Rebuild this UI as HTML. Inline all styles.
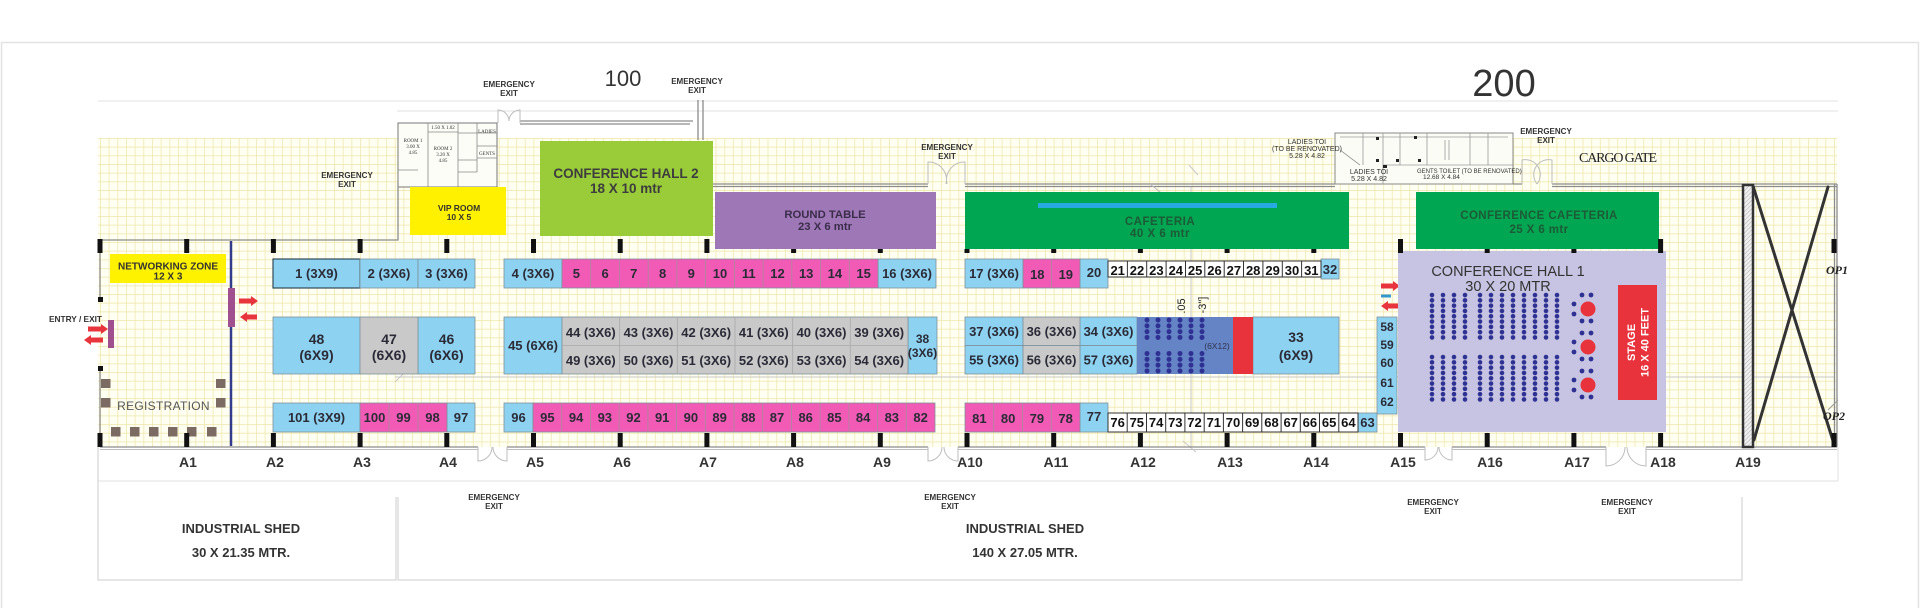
<!DOCTYPE html>
<html><head><meta charset="utf-8">
<style>
html,body{margin:0;padding:0;background:#fff;width:1920px;height:608px;overflow:hidden}
svg{display:block}
text{font-family:"Liberation Sans",Arial,sans-serif}
.bt{font-weight:bold;font-size:13px;fill:#2b2b38;text-anchor:middle}
.bt14{font-weight:bold;font-size:14px;fill:#2b2b38;text-anchor:middle}
.wt{font-weight:bold;font-size:13px;fill:#111;text-anchor:middle}
.ax{font-weight:bold;font-size:14px;fill:#333;text-anchor:middle}
.em{font-weight:bold;font-size:8px;fill:#333;text-anchor:middle}
.tiny{font-family:"Liberation Serif",serif;font-size:5px;fill:#333;text-anchor:middle}
.tl{font-size:7px;fill:#333;text-anchor:middle}
</style></head><body>
<svg width="1920" height="608" viewBox="0 0 1920 608" xmlns="http://www.w3.org/2000/svg">
<defs>
<pattern id="grid" patternUnits="userSpaceOnUse" x="100" y="138" width="8.67" height="8.67">
<rect width="8.67" height="8.67" fill="#fffff2"/>
<path d="M0 0.4H8.67M0.4 0V8.67" stroke="#efe8b2" stroke-width="0.8"/>
</pattern>
<pattern id="dots" patternUnits="userSpaceOnUse" width="11" height="5.3"><circle cx="5.5" cy="2.65" r="2.3" fill="#2e3192"/></pattern>
<pattern id="dots2" patternUnits="userSpaceOnUse" width="11" height="5.8"><circle cx="5.5" cy="2.9" r="2.5" fill="#2e3192"/></pattern>
<pattern id="hatch" patternUnits="userSpaceOnUse" width="3" height="3" patternTransform="rotate(45)"><rect width="3" height="3" fill="#f0f0f0"/><path d="M0 0V3" stroke="#999" stroke-width="0.8"/></pattern>
</defs>

<!-- outer frame -->
<path d="M1.5 608V42.5H1918.5V608" fill="none" stroke="#e3e3e3" stroke-width="1.5"/>

<!-- faint dimension lines -->
<g stroke="#e0e0e0" stroke-width="1" fill="none">
<path d="M98 101H1838"/>
<path d="M397 111H1838"/>
<path d="M98 481H1838"/>
<path d="M1838 447V481"/>
</g>
<g stroke="#d6d6d6" stroke-width="1.2" fill="none">
<path d="M98 447V580H396V497"/>
<path d="M398 497V580H1742V497"/>
</g>

<!-- grid -->
<rect x="98" y="138" width="1739" height="309" fill="url(#grid)"/>

<!-- faint internal reference lines -->
<g stroke="#c8c8c8" stroke-width="1" fill="none">
<path d="M395 377H1834"/>
<path d="M395 382L405 372"/>
<path d="M1191 186V447"/>
<path d="M1183 441L1196 452"/>
<path d="M1189 165L1198 175"/>
</g>

<!-- rooms block top-left -->
<rect x="398" y="123" width="99" height="64" fill="#fdfdf8" stroke="#777" stroke-width="1"/>
<g stroke="#888" stroke-width="0.8" fill="none">
<path d="M428 123V187M458 123V187M477 123V172M428 132H458M398 170H418M458 133H497M458 160H477M458 172H477M477 146H497M477 158H497"/>
</g>
<text class="tiny" x="413" y="142">ROOM 1</text>
<text class="tiny" x="413" y="148">3.00 X</text>
<text class="tiny" x="413" y="154">4.85</text>
<text class="tiny" x="443" y="150">ROOM 2</text>
<text class="tiny" x="443" y="156">3.20 X</text>
<text class="tiny" x="443" y="162">4.85</text>
<text class="tiny" x="443" y="129">1.50 X 1.02</text>
<text class="tiny" x="487" y="133">LADIES</text>
<text class="tiny" x="487" y="155">GENTS</text>

<!-- toilet block -->
<rect x="1335" y="133" width="178" height="51" fill="#fcfcf6" stroke="#888" stroke-width="1"/>
<g stroke="#999" stroke-width="0.8" fill="none">
<path d="M1363 133V165M1383 133V184M1400 133V165M1427 133V165M1470 133V165M1488 133V165M1340 137H1508M1383 165H1513M1340 150L1360 165M1445 140V160M1449 140V160"/>
</g>
<g fill="#222">
<rect x="1376" y="137" width="3" height="3"/><rect x="1376" y="159" width="3" height="3"/><rect x="1396" y="159" width="3" height="3"/><rect x="1418" y="159" width="3" height="3"/><rect x="1414" y="136" width="3" height="3"/><rect x="1383" y="165" width="4" height="3"/>
</g>
<text class="tl" x="1307" y="144">LADIES TOI</text>
<text class="tl" x="1307" y="151">(TO BE RENOVATED)</text>
<text class="tl" x="1307" y="158">5.28 X 4.82</text>
<text class="tl" x="1369" y="174">LADIES TOI</text>
<text class="tl" x="1369" y="181">5.28 X 4.82</text>
<text style="font-size:6px;fill:#333" x="1417" y="173">GENTS TOILET (TO BE RENOVATED)</text>
<text style="font-size:6.5px;fill:#333" x="1423" y="179">12.68 X 4.84</text>

<!-- walls -->
<g stroke="#8c8c8c" stroke-width="1.3" fill="none">
<path d="M100 240H398V183"/>
<path d="M100 240V300M100 368V447"/>
<path d="M520 121H693M520 124H690"/>
<path d="M698 100V140M703 100V140"/>
<path d="M713 184H928M713 186.5H928"/>
<path d="M965 184H1335M965 186.5H1335"/>
<path d="M1513 184H1522M1552 184H1837M1552 186.5H1837"/>
<path d="M1837 184V447M1834.5 184V447"/>
<path d="M100 447H478M507 447H928M958 447H1425M1452 447H1606M1646 447H1837"/>
</g>
<g stroke="#bdbdbd" stroke-width="1" fill="none">
<path d="M100 449.5H478M507 449.5H928M958 449.5H1425M1452 449.5H1606M1646 449.5H1837"/>
<!-- door arcs -->
<path d="M478 447V461A14 14 0 0 0 492 447M507 447V461A14 14 0 0 1 493 447"/>
<path d="M928 447V461A14 14 0 0 0 942 447M958 447V461A14 14 0 0 1 944 447"/>
<path d="M1425 447V460A13 13 0 0 0 1438 447M1452 447V460A13 13 0 0 1 1439 447"/>
<path d="M1606 447V466A19 19 0 0 0 1625 447M1646 447V466A19 19 0 0 1 1627 447"/>
<path d="M498 123V110A11 11 0 0 1 509 121M520 123V110A11 11 0 0 0 509 121"/>
<path d="M928 184V162A18 18 0 0 1 946 184M965 184V162A18 18 0 0 0 947 184"/>
<path d="M1522 184V160A15 15 0 0 1 1537 184M1552 184V160A15 15 0 0 0 1537 184"/>
<path d="M1150 184L1165 196"/>
</g>

<!-- top labels -->
<text x="623" y="86" style="font-size:22px;fill:#333;text-anchor:middle">100</text>
<text x="1504" y="96" style="font-size:38px;fill:#333;text-anchor:middle">200</text>
<text x="1579" y="162" textLength="78" style="font-family:'Liberation Serif',serif;font-size:14px;fill:#222">CARGO GATE</text>

<!-- emergency exits -->
<text class="em" x="347" y="178">EMERGENCY</text><text class="em" x="347" y="187">EXIT</text>
<text class="em" x="509" y="87">EMERGENCY</text><text class="em" x="509" y="96">EXIT</text>
<text class="em" x="697" y="84">EMERGENCY</text><text class="em" x="697" y="93">EXIT</text>
<text class="em" x="947" y="150">EMERGENCY</text><text class="em" x="947" y="159">EXIT</text>
<text class="em" x="1546" y="134">EMERGENCY</text><text class="em" x="1546" y="143">EXIT</text>
<text class="em" x="494" y="500">EMERGENCY</text><text class="em" x="494" y="509">EXIT</text>
<text class="em" x="950" y="500">EMERGENCY</text><text class="em" x="950" y="509">EXIT</text>
<text class="em" x="1433" y="505">EMERGENCY</text><text class="em" x="1433" y="514">EXIT</text>
<text class="em" x="1627" y="505">EMERGENCY</text><text class="em" x="1627" y="514">EXIT</text>

<!-- VIP room -->
<rect x="410" y="187" width="96" height="48" fill="#fff100"/>
<text x="459" y="211" style="font-weight:bold;font-size:8.5px;fill:#333;text-anchor:middle">VIP ROOM</text>
<text x="459" y="220" style="font-weight:bold;font-size:8.5px;fill:#333;text-anchor:middle">10 X 5</text>

<!-- Conference hall 2 -->
<rect x="540" y="141" width="173" height="95" fill="#9acc3a"/>
<text x="626" y="178" style="font-weight:bold;font-size:13.5px;fill:#3d3d3d;text-anchor:middle">CONFERENCE HALL 2</text>
<text x="626" y="193" style="font-weight:bold;font-size:13.5px;fill:#3d3d3d;text-anchor:middle">18 X 10 mtr</text>

<!-- Round table -->
<rect x="715" y="192" width="221" height="57" fill="#9e78b6"/>
<text x="825" y="218" style="font-weight:bold;font-size:11.3px;fill:#3c2c4c;text-anchor:middle">ROUND TABLE</text>
<text x="825" y="230" style="font-weight:bold;font-size:11.3px;fill:#3c2c4c;text-anchor:middle">23 X 6 mtr</text>

<!-- Cafeteria -->
<rect x="965" y="192" width="384" height="57" fill="#00a651"/>
<rect x="1038" y="203" width="239" height="5" fill="#27aae1"/>
<text x="1160" y="225" style="font-weight:bold;font-size:11.5px;fill:#1e5a36;text-anchor:middle;letter-spacing:0.5px">CAFETERIA</text>
<text x="1160" y="237" style="font-weight:bold;font-size:11.5px;fill:#1e5a36;text-anchor:middle;letter-spacing:0.5px">40 X 6 mtr</text>

<!-- Conference cafeteria -->
<rect x="1416" y="192" width="243" height="57" fill="#00a651"/>
<text x="1539" y="219" style="font-weight:bold;font-size:11.5px;fill:#1e5a36;text-anchor:middle;letter-spacing:0.4px">CONFERENCE CAFETERIA</text>
<text x="1539" y="233" style="font-weight:bold;font-size:11.5px;fill:#1e5a36;text-anchor:middle;letter-spacing:0.4px">25 X 6 mtr</text>

<!-- Networking zone -->
<rect x="110" y="254" width="116" height="29" fill="#fff200"/>
<text x="168" y="269.5" style="font-weight:bold;font-size:10px;fill:#333;text-anchor:middle">NETWORKING ZONE</text>
<text x="168" y="279.5" style="font-weight:bold;font-size:10px;fill:#333;text-anchor:middle">12 X 3</text>

<!-- divider line and doors -->
<path d="M231 241V446" stroke="#333c8c" stroke-width="2.5"/>
<rect x="228" y="288" width="7" height="39" fill="#a0508f"/>
<rect x="108" y="320" width="6" height="28" fill="#a0508f"/>
<g fill="#e8343c">
<path d="M239 298.5H251V296L258 301L251 306V303.5H239Z"/>
<path d="M257 314.5H247V312L240 317L247 322V319.5H257Z"/>
<path d="M88 326.5H101V324L108 329L101 334V331.5H88Z"/>
<path d="M103 337.5H91V335L84 340L91 345V342.5H103Z"/>
<path d="M1381 283.5H1393V281L1400 286L1393 291V288.5H1381Z"/>
<path d="M1400 303.5H1388V301L1381 306L1388 311V308.5H1400Z"/>
</g>
<rect x="1381" y="294.5" width="10" height="3" fill="#3399cc"/>
<text x="75.5" y="322" style="font-weight:bold;font-size:8.3px;fill:#333;text-anchor:middle">ENTRY / EXIT</text>

<!-- left wall black markers -->
<rect x="98" y="297" width="5" height="5" fill="#111"/>
<rect x="98" y="366" width="5" height="5" fill="#111"/>

<!-- Registration -->
<g fill="#7b6b62">
<rect x="101" y="379" width="9.5" height="9"/><rect x="101" y="398" width="9.5" height="9.5"/>
<rect x="216" y="379" width="9.5" height="9"/><rect x="216" y="398" width="9.5" height="9.5"/>
<rect x="111" y="427" width="9.5" height="9.5"/><rect x="130" y="427" width="9.5" height="9.5"/><rect x="149" y="427" width="9.5" height="9.5"/><rect x="168" y="427" width="9.5" height="9.5"/><rect x="187" y="427" width="9.5" height="9.5"/><rect x="207" y="427" width="9.5" height="9.5"/>
</g>
<text x="163.5" y="410" style="font-size:12px;fill:#555;text-anchor:middle;letter-spacing:0.3px">REGISTRATION</text>

<!-- ===== BOOTHS ===== -->
<g stroke="#7f919c" stroke-width="0.8">
<!-- blue -->
<g fill="#8dd3f1">
<rect x="273" y="259" width="87" height="29" stroke="#34495a" stroke-width="1.2"/>
<rect x="360" y="259" width="58" height="29"/>
<rect x="418" y="259" width="57" height="29"/>
<rect x="504" y="259" width="58" height="29"/>
<rect x="878" y="259" width="58" height="29"/>
<rect x="965" y="259" width="58" height="29"/>
<rect x="1080" y="259" width="28" height="29"/>
<rect x="1321" y="259" width="18" height="20"/>
<rect x="273" y="317" width="87" height="57"/>
<rect x="418" y="317" width="57" height="57"/>
<rect x="504" y="317" width="58" height="57"/>
<rect x="908" y="317" width="29" height="57"/>
<rect x="965" y="317" width="58" height="28.5"/><rect x="965" y="345.5" width="58" height="28.5"/>
<rect x="1080" y="317" width="57" height="28.5"/><rect x="1080" y="345.5" width="57" height="28.5"/>
<rect x="1253" y="317" width="86" height="57"/>
<rect x="1377" y="317" width="20" height="97"/>
<rect x="273" y="403" width="87" height="29"/>
<rect x="447" y="403" width="28" height="29"/>
<rect x="504" y="403" width="29" height="29"/>
<rect x="1080" y="403" width="28" height="29"/>
<rect x="1358" y="413" width="19" height="19"/>
</g>
<!-- gray -->
<g fill="#c9c9c9">
<rect x="360" y="317" width="58" height="57"/>
<rect x="562" y="317" width="346" height="57"/>
<rect x="1023" y="317" width="57" height="28.5"/><rect x="1023" y="345.5" width="57" height="28.5"/>
</g>
<!-- pink -->
<g fill="#f15bb5">
<rect x="562" y="259" width="316" height="29"/>
<rect x="1023" y="259" width="57" height="29"/>
<rect x="360" y="403" width="87" height="29"/>
<rect x="533" y="403" width="402" height="29"/>
<rect x="965" y="403" width="115" height="29"/>
</g>
</g>
<!-- separators -->
<g stroke="#a58aa0" stroke-width="0.8">
<path d="M590.7 259V288M619.5 259V288M648.2 259V288M676.9 259V288M705.6 259V288M734.4 259V288M763.1 259V288M791.8 259V288M820.5 259V288M849.3 259V288"/>
<path d="M1051.5 259V288"/>
<path d="M389 403V432M418 403V432"/>
<path d="M561.7 403V432M590.4 403V432M619.1 403V432M647.9 403V432M676.6 403V432M705.3 403V432M734 403V432M762.7 403V432M791.4 403V432M820.1 403V432M848.9 403V432M877.6 403V432M906.3 403V432"/>
<path d="M993.75 403V432M1022.5 403V432M1051.25 403V432"/>
</g>
<g stroke="#a9a9a9" stroke-width="0.8">
<path d="M562 345.5H908M619.7 317V374M677.3 317V374M735 317V374M792.7 317V374M850.3 317V374"/>
</g>

<!-- white boxes -->
<g fill="#fff" stroke="#333" stroke-width="1">
<rect x="1108" y="261" width="213" height="16"/>
<rect x="1108" y="413" width="250" height="19"/>
</g>
<g stroke="#333" stroke-width="1">
<path d="M1127.4 261V277M1146.7 261V277M1166.1 261V277M1185.5 261V277M1204.8 261V277M1224.2 261V277M1243.5 261V277M1262.9 261V277M1282.3 261V277M1301.6 261V277"/>
<path d="M1127.2 413V432M1146.5 413V432M1165.7 413V432M1184.9 413V432M1204.2 413V432M1223.4 413V432M1242.6 413V432M1261.8 413V432M1281.1 413V432M1300.3 413V432M1319.5 413V432M1338.8 413V432"/>
</g>

<!-- seating block and red -->
<rect x="1137" y="317" width="96" height="57" fill="#6584c6"/>
<svg x="1141.5" y="317.1" width="66" height="23.2" overflow="visible"><rect width="66" height="23.2" fill="url(#dots2)"/></svg>
<svg x="1141.5" y="350.6" width="66" height="23.2" overflow="visible"><rect width="66" height="23.2" fill="url(#dots2)"/></svg>
<rect x="1233" y="317" width="20" height="57" fill="#e8323c"/>
<text x="1217" y="349" style="font-size:8.5px;fill:#2d3550;text-anchor:middle">(6X12)</text>
<text transform="translate(1185 306) rotate(-90)" style="font-size:11px;fill:#222;text-anchor:middle">.05</text>
<text transform="translate(1206 305) rotate(-90)" style="font-size:11px;fill:#222;text-anchor:middle">-3"]</text>

<!-- booth texts row 1 -->
<g class="bt">
<text x="316.5" y="278">1 (3X9)</text>
<text x="389" y="278">2 (3X6)</text>
<text x="446.5" y="278">3 (3X6)</text>
<text x="533" y="278">4 (3X6)</text>
<text x="576.4" y="278">5</text><text x="605.1" y="278">6</text><text x="633.8" y="278">7</text><text x="662.6" y="278">8</text><text x="691.3" y="278">9</text><text x="720" y="278">10</text><text x="748.7" y="278">11</text><text x="777.5" y="278">12</text><text x="806.2" y="278">13</text><text x="834.9" y="278">14</text><text x="863.6" y="278">15</text>
<text x="907" y="278">16 (3X6)</text>
<text x="994" y="278">17 (3X6)</text>
<text x="1037.3" y="279">18</text><text x="1065.8" y="279">19</text>
<text x="1094" y="277">20</text>
<text x="1330" y="274">32</text>
</g>
<g class="wt">
<text x="1117.7" y="275">21</text><text x="1137" y="275">22</text><text x="1156.4" y="275">23</text><text x="1175.8" y="275">24</text><text x="1195.1" y="275">25</text><text x="1214.5" y="275">26</text><text x="1233.9" y="275">27</text><text x="1253.2" y="275">28</text><text x="1272.6" y="275">29</text><text x="1292" y="275">30</text><text x="1311.3" y="275">31</text>
</g>

<!-- middle row texts -->
<g class="bt14">
<text x="316.5" y="344">48</text><text x="316.5" y="360">(6X9)</text>
<text x="389" y="344">47</text><text x="389" y="360">(6X6)</text>
<text x="446.5" y="344">46</text><text x="446.5" y="360">(6X6)</text>
<text x="1296" y="342">33</text><text x="1296" y="360">(6X9)</text>
</g>
<g class="bt">
<text x="533" y="350">45 (6X6)</text>
<text x="590.8" y="337">44 (3X6)</text><text x="648.5" y="337">43 (3X6)</text><text x="706.2" y="337">42 (3X6)</text><text x="763.8" y="337">41 (3X6)</text><text x="821.5" y="337">40 (3X6)</text><text x="879.2" y="337">39 (3X6)</text>
<text x="590.8" y="365">49 (3X6)</text><text x="648.5" y="365">50 (3X6)</text><text x="706.2" y="365">51 (3X6)</text><text x="763.8" y="365">52 (3X6)</text><text x="821.5" y="365">53 (3X6)</text><text x="879.2" y="365">54 (3X6)</text>
<text x="994" y="336">37 (3X6)</text><text x="994" y="364.5">55 (3X6)</text>
<text x="1051.5" y="336">36 (3X6)</text><text x="1051.5" y="364.5">56 (3X6)</text>
<text x="1108.5" y="336">34 (3X6)</text><text x="1108.5" y="364.5">57 (3X6)</text>
</g>
<g style="font-weight:bold;font-size:12px;fill:#2b2b38;text-anchor:middle">
<text x="922.5" y="343">38</text><text x="922.5" y="357">(3X6)</text>
<text x="1387" y="331">58</text><text x="1387" y="349">59</text><text x="1387" y="367">60</text><text x="1387" y="387">61</text><text x="1387" y="406">62</text>
</g>

<!-- bottom row texts -->
<g class="bt">
<text x="316.5" y="422">101 (3X9)</text>
<text x="374.5" y="422">100</text><text x="403.5" y="422">99</text><text x="432.5" y="422">98</text><text x="461" y="422">97</text>
<text x="518.5" y="422">96</text>
<text x="547.4" y="422">95</text><text x="576.1" y="422">94</text><text x="604.8" y="422">93</text><text x="633.5" y="422">92</text><text x="662.2" y="422">91</text><text x="690.9" y="422">90</text><text x="719.6" y="422">89</text><text x="748.3" y="422">88</text><text x="777" y="422">87</text><text x="805.7" y="422">86</text><text x="834.4" y="422">85</text><text x="863.1" y="422">84</text><text x="891.8" y="422">83</text><text x="920.6" y="422">82</text>
<text x="979.4" y="423">81</text><text x="1008.1" y="423">80</text><text x="1036.9" y="423">79</text><text x="1065.6" y="423">78</text>
<text x="1094" y="421">77</text>
<text x="1367.5" y="427">63</text>
</g>
<g class="wt">
<text x="1117.6" y="427">76</text><text x="1136.8" y="427">75</text><text x="1156.1" y="427">74</text><text x="1175.3" y="427">73</text><text x="1194.5" y="427">72</text><text x="1213.8" y="427">71</text><text x="1233" y="427">70</text><text x="1252.2" y="427">69</text><text x="1271.5" y="427">68</text><text x="1290.7" y="427">67</text><text x="1309.9" y="427">66</text><text x="1329.1" y="427">65</text><text x="1348.4" y="427">64</text>
</g>

<!-- Conference hall 1 -->
<rect x="1398" y="251" width="268" height="181" fill="#c6c4e2"/>
<text x="1508" y="276" style="font-size:14.5px;fill:#333;text-anchor:middle">CONFERENCE HALL 1</text>
<text x="1508" y="291" style="font-size:14.5px;fill:#333;text-anchor:middle">30 X 20 MTR</text>
<svg x="1426.5" y="292.4" width="44" height="47.7" overflow="visible"><rect width="44" height="47.7" fill="url(#dots)"/></svg>
<svg x="1474.5" y="292.4" width="88" height="47.7" overflow="visible"><rect width="88" height="47.7" fill="url(#dots)"/></svg>
<svg x="1426.5" y="354.4" width="44" height="47.7" overflow="visible"><rect width="44" height="47.7" fill="url(#dots)"/></svg>
<svg x="1474.5" y="354.4" width="88" height="47.7" overflow="visible"><rect width="88" height="47.7" fill="url(#dots)"/></svg>
<g fill="#2e3192">
<circle cx="1582" cy="295" r="2.4"/><circle cx="1591" cy="295" r="2.4"/><circle cx="1574" cy="304" r="2.4"/><circle cx="1574" cy="314" r="2.4"/><circle cx="1582" cy="321" r="2.4"/><circle cx="1591" cy="321" r="2.4"/>
<circle cx="1582" cy="333" r="2.4"/><circle cx="1591" cy="333" r="2.4"/><circle cx="1574" cy="342" r="2.4"/><circle cx="1574" cy="352" r="2.4"/><circle cx="1582" cy="359" r="2.4"/><circle cx="1591" cy="359" r="2.4"/>
<circle cx="1582" cy="371" r="2.4"/><circle cx="1591" cy="371" r="2.4"/><circle cx="1574" cy="380" r="2.4"/><circle cx="1574" cy="390" r="2.4"/><circle cx="1582" cy="397" r="2.4"/><circle cx="1591" cy="397" r="2.4"/>
</g>
<g fill="#e8323c">
<circle cx="1588" cy="309" r="7.5"/><circle cx="1588" cy="347" r="7.5"/><circle cx="1588" cy="385" r="7.5"/>
</g>
<rect x="1618" y="285" width="39" height="115" fill="#e8323c"/>
<text transform="translate(1635 342.5) rotate(-90)" style="font-weight:bold;font-size:11px;fill:#fff;text-anchor:middle">STAGE</text>
<text transform="translate(1648.5 342.5) rotate(-90)" style="font-weight:bold;font-size:11px;fill:#fff;text-anchor:middle">16 X 40 FEET</text>

<!-- A19 structure -->
<rect x="1743" y="185" width="10" height="262" fill="url(#hatch)" stroke="#333" stroke-width="2.5"/>
<g stroke="#333" stroke-width="3" fill="none" stroke-linecap="round">
<path d="M1753 186L1834 444"/>
<path d="M1828 187L1754 440"/>
</g>
<text x="1837" y="274" style="font-family:'Liberation Serif',serif;font-style:italic;font-weight:bold;font-size:12px;fill:#222;text-anchor:middle">OP1</text>
<text x="1834" y="420" style="font-family:'Liberation Serif',serif;font-style:italic;font-weight:bold;font-size:12px;fill:#222;text-anchor:middle">OP2</text>
<path d="M1828 410L1838 400" stroke="#999" stroke-width="1"/>

<!-- column markers -->
<g fill="#111">
<!-- top full -->
<rect x="97.5" y="239" width="5" height="14"/><rect x="184.2" y="239" width="5" height="14"/><rect x="270.9" y="239" width="5" height="14"/><rect x="357.6" y="239" width="5" height="14"/><rect x="444.3" y="239" width="5" height="14"/>
<rect x="531" y="239" width="5" height="14"/><rect x="617.7" y="239" width="5" height="14"/><rect x="704.4" y="239" width="5" height="14"/>
<rect x="1398" y="239" width="5" height="14"/><rect x="1658.1" y="239" width="5" height="14"/><rect x="1831.5" y="239" width="5" height="14"/>
<!-- top small -->
<rect x="791.1" y="249" width="5" height="4"/><rect x="877.8" y="249" width="5" height="4"/>
<rect x="964.5" y="249" width="5" height="4"/><rect x="1051.2" y="249" width="5" height="4"/><rect x="1137.9" y="249" width="5" height="4"/><rect x="1224.6" y="249" width="5" height="4"/><rect x="1311.3" y="249" width="5" height="4"/>
<rect x="1484.7" y="249" width="5" height="4"/><rect x="1571.4" y="249" width="5" height="4"/>
<!-- bottom -->
<rect x="97.5" y="433" width="5" height="14"/><rect x="184.2" y="433" width="5" height="14"/><rect x="270.9" y="433" width="5" height="14"/><rect x="357.6" y="433" width="5" height="14"/><rect x="444.3" y="433" width="5" height="14"/>
<rect x="531" y="433" width="5" height="14"/><rect x="617.7" y="433" width="5" height="14"/><rect x="704.4" y="433" width="5" height="14"/><rect x="791.1" y="433" width="5" height="14"/><rect x="877.8" y="433" width="5" height="14"/>
<rect x="964.5" y="433" width="5" height="14"/><rect x="1051.2" y="433" width="5" height="14"/><rect x="1137.9" y="433" width="5" height="14"/><rect x="1224.6" y="433" width="5" height="14"/><rect x="1311.3" y="433" width="5" height="14"/>
<rect x="1398" y="433" width="5" height="14"/><rect x="1484.7" y="433" width="5" height="14"/><rect x="1571.4" y="433" width="5" height="14"/><rect x="1658.1" y="433" width="5" height="14"/><rect x="1831.5" y="433" width="5" height="14"/>
</g>

<!-- axis labels -->
<g class="ax">
<text x="188" y="467">A1</text><text x="275" y="467">A2</text><text x="362" y="467">A3</text><text x="448" y="467">A4</text><text x="535" y="467">A5</text><text x="622" y="467">A6</text><text x="708" y="467">A7</text><text x="795" y="467">A8</text><text x="882" y="467">A9</text>
<text x="970" y="467">A10</text><text x="1056" y="467">A11</text><text x="1143" y="467">A12</text><text x="1230" y="467">A13</text><text x="1316" y="467">A14</text><text x="1403" y="467">A15</text><text x="1490" y="467">A16</text><text x="1577" y="467">A17</text><text x="1663" y="467">A18</text><text x="1748" y="467">A19</text>
</g>

<!-- industrial shed labels -->
<g style="font-weight:bold;font-size:13px;fill:#333;text-anchor:middle">
<text x="241" y="533">INDUSTRIAL SHED</text>
<text x="241" y="557">30 X 21.35 MTR.</text>
<text x="1025" y="533">INDUSTRIAL SHED</text>
<text x="1025" y="557">140 X 27.05 MTR.</text>
</g>
</svg>
</body></html>
